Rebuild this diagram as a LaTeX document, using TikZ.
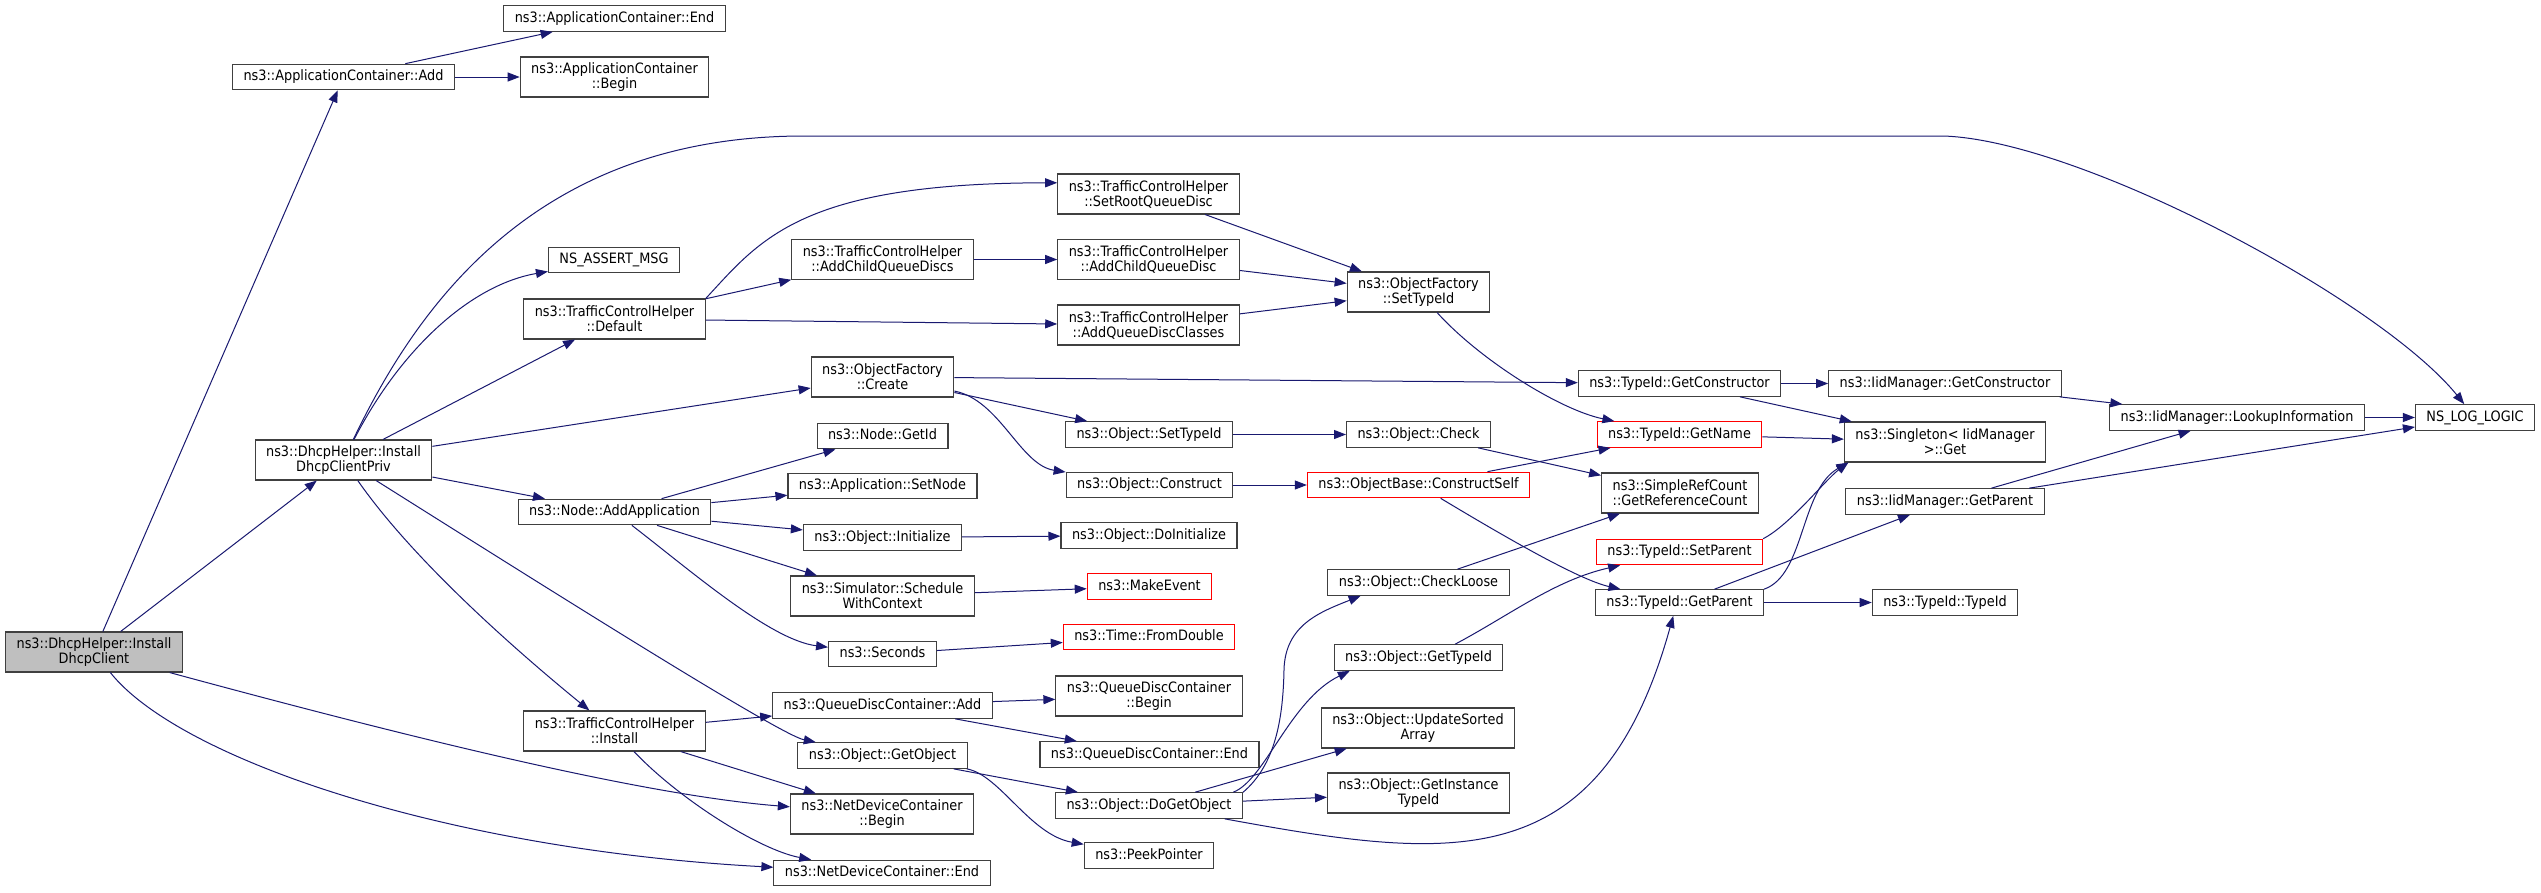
\documentclass[tikz,border=0pt]{standalone}
\usepackage{fontspec}
\setmainfont{DejaVu Sans}[FakeStretch=0.9]
\usetikzlibrary{arrows.meta}
\definecolor{edgeblue}{HTML}{191970}
\tikzset{
  box/.style={draw=black!75, line width=1.1pt, fill=white, inner xsep=11pt,
    font=\fontsize{14.3}{15}\selectfont},
  fn/.style={box, inner ysep=6pt, text height=10.6pt, text depth=3pt},
  fn2/.style={box, align=center, minimum height=40pt, inner ysep=2pt},
  hid/.style={draw=red},
  call/.style={draw=edgeblue, line width=1pt, -{Triangle[length=12pt,width=9pt]}}
}
\begin{document}
\begin{tikzpicture}[x=1pt,y=-1pt]
\fill[white] (0,0) rectangle (2541,892);
\node[fn2, fill=black!25] (root) at (94,652) {ns3::DhcpHelper::Install\\DhcpClient};
\node[fn] (appadd) at (343.5,77) {ns3::ApplicationContainer::Add};
\node[fn] (append) at (614.5,18.5) {ns3::ApplicationContainer::End};
\node[fn2] (appbegin) at (614.5,77) {ns3::ApplicationContainer\\::Begin};
\node[fn2] (priv) at (343.5,460) {ns3::DhcpHelper::Install\\DhcpClientPriv};
\node[fn] (assert) at (614,260) {NS\_ASSERT\_MSG};
\node[fn2] (tchdefault) at (614.5,319) {ns3::TrafficControlHelper\\::Default};
\node[fn2] (tchroot) at (1148.5,194) {ns3::TrafficControlHelper\\::SetRootQueueDisc};
\node[fn2] (tchchilds) at (882.5,259.5) {ns3::TrafficControlHelper\\::AddChildQueueDiscs};
\node[fn2] (tchchild) at (1148.5,259.5) {ns3::TrafficControlHelper\\::AddChildQueueDisc};
\node[fn2] (tchclasses) at (1148.5,325) {ns3::TrafficControlHelper\\::AddQueueDiscClasses};
\node[fn2] (ofsettid) at (1418.5,292) {ns3::ObjectFactory\\::SetTypeId};
\node[fn2] (ofcreate) at (882.5,377) {ns3::ObjectFactory\\::Create};
\node[fn] (tidgetctor) at (1679.5,383.5) {ns3::TypeId::GetConstructor};
\node[fn] (iidgetctor) at (1945,383.5) {ns3::IidManager::GetConstructor};
\node[fn] (iidlookup) at (2237,417.5) {ns3::IidManager::LookupInformation};
\node[fn] (log) at (2475,417.5) {NS\_LOG\_LOGIC};
\node[fn] (getid) at (882.5,436) {ns3::Node::GetId};
\node[fn] (objsettid) at (1149,434.5) {ns3::Object::SetTypeId};
\node[fn] (objcheck) at (1418.5,434.5) {ns3::Object::Check};
\node[fn, hid] (getname) at (1679.5,434.5) {ns3::TypeId::GetName};
\node[fn2] (singleton) at (1945,442) {ns3::Singleton< IidManager\\>::Get};
\node[fn] (addapp) at (614.5,512) {ns3::Node::AddApplication};
\node[fn] (setnode) at (882.5,486) {ns3::Application::SetNode};
\node[fn] (construct) at (1149.5,485) {ns3::Object::Construct};
\node[fn, hid] (constructself) at (1418.5,485) {ns3::ObjectBase::ConstructSelf};
\node[fn2] (refcount) at (1680,493) {ns3::SimpleRefCount\\::GetReferenceCount};
\node[fn] (initialize) at (882.5,537.5) {ns3::Object::Initialize};
\node[fn] (doinit) at (1149,535.5) {ns3::Object::DoInitialize};
\node[fn, hid] (setparent) at (1679.5,552) {ns3::TypeId::SetParent};
\node[fn] (iidgetparent) at (1945,501.5) {ns3::IidManager::GetParent};
\node[fn2] (schedule) at (882.5,596) {ns3::Simulator::Schedule\\WithContext};
\node[fn, hid] (makeevent) at (1149.5,586.5) {ns3::MakeEvent};
\node[fn] (checkloose) at (1418.5,582.5) {ns3::Object::CheckLoose};
\node[fn] (tidgetparent) at (1679.5,602.5) {ns3::TypeId::GetParent};
\node[fn] (tidtypeid) at (1945,602.5) {ns3::TypeId::TypeId};
\node[fn] (seconds) at (882.5,654) {ns3::Seconds};
\node[fn, hid] (fromdouble) at (1149,637) {ns3::Time::FromDouble};
\node[fn] (objgettid) at (1418.5,657.5) {ns3::Object::GetTypeId};
\node[fn2] (install) at (614.5,731) {ns3::TrafficControlHelper\\::Install};
\node[fn] (qdcadd) at (882.5,705.5) {ns3::QueueDiscContainer::Add};
\node[fn2] (qdcbegin) at (1149,696) {ns3::QueueDiscContainer\\::Begin};
\node[fn] (qdcend) at (1149.5,754.5) {ns3::QueueDiscContainer::End};
\node[fn] (getobject) at (882.5,755.5) {ns3::Object::GetObject};
\node[fn2] (sorted) at (1418,728) {ns3::Object::UpdateSorted\\Array};
\node[fn] (dogetobject) at (1149,805.5) {ns3::Object::DoGetObject};
\node[fn2] (insttid) at (1418.5,793) {ns3::Object::GetInstance\\TypeId};
\node[fn2] (ndcbegin) at (882,814) {ns3::NetDeviceContainer\\::Begin};
\node[fn] (peek) at (1149,855.5) {ns3::PeekPointer};
\node[fn] (ndcend) at (882,873) {ns3::NetDeviceContainer::End};

\draw[call] (root) -- (appadd);
\draw[call] (root) -- (priv);
\draw[call] (root) .. controls (400,735) and (640,795) .. (ndcbegin);
\draw[call] (root) .. controls (180,760) and (450,850) .. (ndcend);
\draw[call] (appadd) -- (append);
\draw[call] (appadd) -- (appbegin);
\draw[call] (priv) .. controls (420,300) and (540,136) .. (804,136) -- (1943,136)
  .. controls (2080,140) and (2380,300) .. (log);
\draw[call] (priv) .. controls (400,350) and (470,285) .. (assert);
\draw[call] (priv) -- (tchdefault);
\draw[call] (priv) -- (ofcreate);
\draw[call] (priv) -- (addapp);
\draw[call] (priv) .. controls (420,570) and (540,670) .. (install);
\draw[call] (priv) .. controls (550,590) and (780,735) .. (getobject);
\draw[call] (tchdefault.north east) .. controls (760,240) and (800,183) .. (tchroot.173);
\draw[call] (tchdefault) -- (tchchilds);
\draw[call] (tchdefault) -- (tchclasses);
\draw[call] (tchchilds) -- (tchchild);
\draw[call] (tchroot) -- (ofsettid);
\draw[call] (tchchild) -- (ofsettid);
\draw[call] (tchclasses) -- (ofsettid);
\draw[call] (ofsettid) .. controls (1480,360) and (1560,410) .. (getname);
\draw[call] (ofcreate) -- (tidgetctor);
\draw[call] (ofcreate) -- (objsettid);
\draw[call] (ofcreate) .. controls (1000,400) and (1020,465) .. (construct);
\draw[call] (tidgetctor) -- (iidgetctor);
\draw[call] (tidgetctor) -- (singleton);
\draw[call] (iidgetctor) -- (iidlookup);
\draw[call] (iidlookup) -- (log);
\draw[call] (objsettid) -- (objcheck);
\draw[call] (objcheck) -- (refcount);
\draw[call] (getname) -- (singleton);
\draw[call] (addapp) -- (getid);
\draw[call] (addapp) -- (setnode);
\draw[call] (addapp) -- (initialize);
\draw[call] (addapp) -- (schedule);
\draw[call] (addapp) .. controls (690,570) and (770,640) .. (seconds);
\draw[call] (construct) -- (constructself);
\draw[call] (constructself) -- (getname);
\draw[call] (constructself) .. controls (1510,540) and (1580,580) .. (tidgetparent);
\draw[call] (initialize) -- (doinit);
\draw[call] (schedule) -- (makeevent);
\draw[call] (seconds) -- (fromdouble);
\draw[call] (checkloose) -- (refcount);
\draw[call] (setparent.north east) .. controls (1790,525) and (1825,480) .. (singleton.192);
\draw[call] (tidgetparent.north east) .. controls (1805,575) and (1800,490) .. (singleton.192);
\draw[call] (tidgetparent) -- (iidgetparent);
\draw[call] (tidgetparent) -- (tidtypeid);
\draw[call] (iidgetparent) -- (iidlookup);
\draw[call] (iidgetparent) -- (log);
\draw[call] (objgettid.20) .. controls (1510,615) and (1555,580) .. (setparent);
\draw[call] (install) -- (qdcadd);
\draw[call] (install) -- (ndcbegin);
\draw[call] (install) .. controls (680,800) and (760,850) .. (ndcend);
\draw[call] (qdcadd) -- (qdcbegin);
\draw[call] (qdcadd) -- (qdcend);
\draw[call] (getobject) -- (dogetobject);
\draw[call] (getobject.351) .. controls (1000,775) and (1030,835) .. (peek);
\draw[call] (dogetobject.8) .. controls (1275,765) and (1283,720) .. (1284,670)
  .. controls (1285,625) and (1320,612) .. (checkloose.193);
\draw[call] (dogetobject.9) .. controls (1265,780) and (1290,700) .. (objgettid.191);
\draw[call] (dogetobject) -- (sorted);
\draw[call] (dogetobject) -- (insttid);
\draw[call] (dogetobject.350) .. controls (1450,860) and (1600,880) .. (tidgetparent.245);
\end{tikzpicture}
\end{document}
